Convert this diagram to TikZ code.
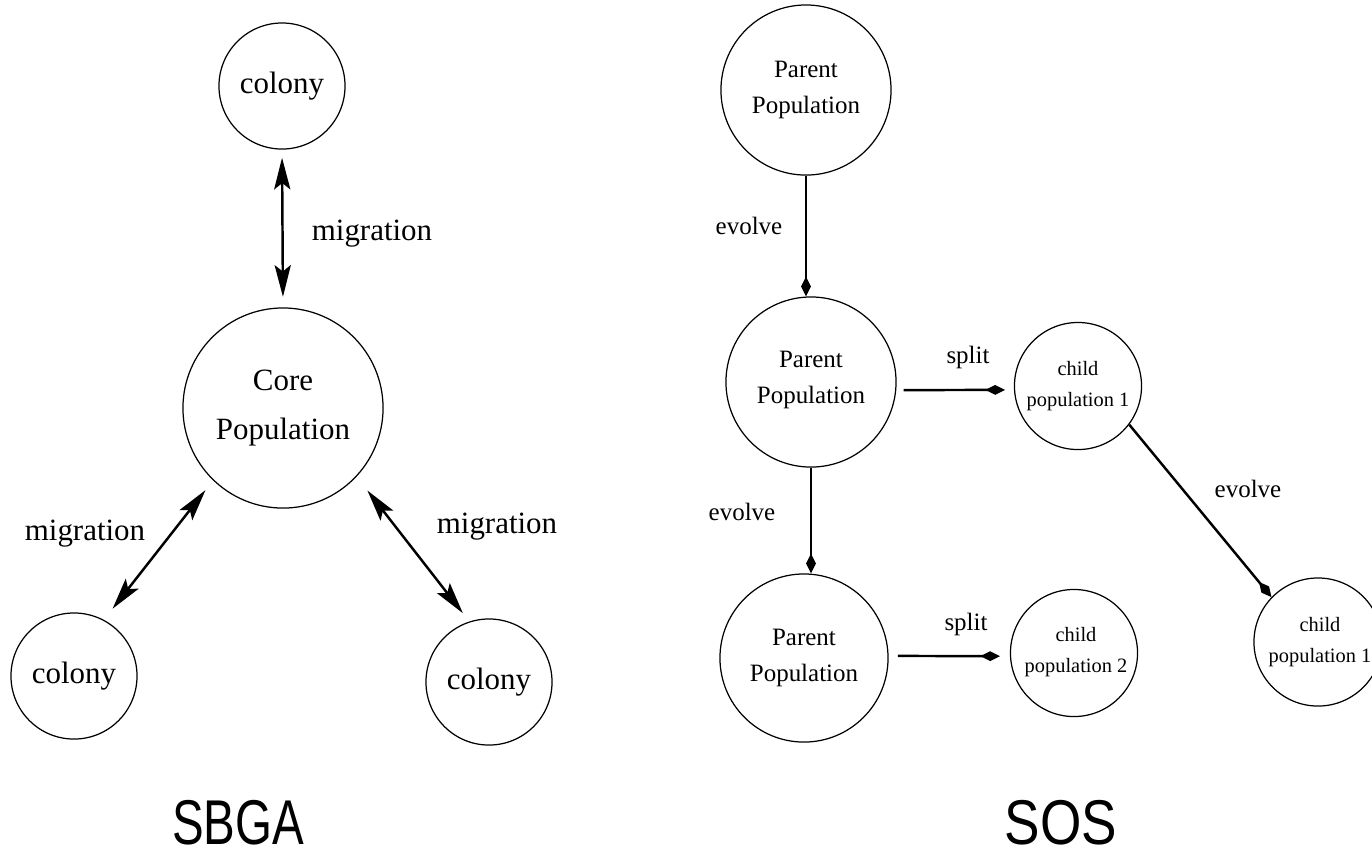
\documentclass[tikz,border=0pt]{standalone}
\usepackage{fontspec}
\setmainfont{Liberation Serif}
\newfontfamily\headfont{Liberation Sans}
\usetikzlibrary{arrows.meta}

\tikzset{
  pop/.style={circle, draw, line width=0.35pt, inner sep=0pt, minimum size=#1},
  bigtxt/.style={align=center, inner sep=0pt, font=\fontsize{8.8}{14.2}\selectfont},
  midtxt/.style={align=center, inner sep=0pt, font=\fontsize{7.1}{10.4}\selectfont},
  smalltxt/.style={align=center, inner sep=0pt, font=\fontsize{5.8}{8.8}\selectfont},
  headtxt/.style={inner sep=0pt, xscale=#1, transform shape, font=\headfont\fontsize{18}{20}\selectfont},
  twoway/.style={line width=0.7pt, {Stealth[length=9pt, width=4.6pt, inset=1.8pt]}-{Stealth[length=9pt, width=4.6pt, inset=1.8pt]}},
  oneway/.style={line width=0.7pt, -{Diamond[length=5.6pt, width=2.8pt]}},
}

\begin{document}
\begin{tikzpicture}[x=0.01cm, y=-0.01cm]
  \useasboundingbox (0,0) rectangle (1372,856);

  % ---------------- SBGA: core population with three colonies
  \node[pop=1.26cm] (ctop) at (282,86) {};
  \node[bigtxt] at (282,86) {colony};
  \node[pop=2cm] (core) at (283,408) {};
  \node[bigtxt] at (283,408) {Core\\Population};
  \node[pop=1.26cm] (cbl) at (74,676) {};
  \node[bigtxt] at (74,676) {colony};
  \node[pop=1.26cm] (cbr) at (489,682) {};
  \node[bigtxt] at (489,682) {colony};

  \draw[twoway, shorten <=2.3pt, shorten >=3pt] (ctop.270) -- (core.90);
  \draw[twoway, shorten <=3.5pt, shorten >=4pt] (core.226) -- (cbl.62);
  \draw[twoway, shorten <=5pt, shorten >=3pt] (core.317) -- (cbr.108);

  \node[bigtxt] (m1) at (372,234) {migration};
  \node[bigtxt] (m2) at (85,534) {migration};
  \node[bigtxt] (m3) at (497,527) {migration};

  \node[headtxt=0.75] (sbga) at (238,823) {SBGA};

  % ---------------- SOS: splitting populations
  \node[pop=1.70cm] (p1) at (806,90) {};
  \node[midtxt] at (806,90) {Parent\\Population};
  \node[pop=1.70cm] (p2) at (811,382) {};
  \node[midtxt] at (811,380) {Parent\\Population};
  \node[pop=1.68cm] (p3) at (804,658) {};
  \node[midtxt] at (804,658) {Parent\\Population};

  \node[pop=1.27cm] (k1) at (1078,386) {};
  \node[smalltxt] at (1078,386) {child\\population 1};
  \node[pop=1.27cm] (k2) at (1074,653) {};
  \node[smalltxt] at (1076,652) {child\\population 2};
  \node[pop=1.28cm] (k3) at (1318,642) {};
  \node[smalltxt] at (1320,642) {child\\population 1};

  \draw[oneway] (p1.south) -- (p1.south |- p2.north);
  \draw[oneway] (p2.south) -- (p2.south |- p3.north);
  \draw[oneway, shorten <=2pt, shorten >=2.5pt] ([yshift=-2.3pt]p2.east) -- ([yshift=-1.1pt]k1.west);
  \draw[oneway, shorten <=2.6pt, shorten >=2.8pt] ([yshift=0.6pt]p3.east) -- ([yshift=-0.9pt]k2.west);
  \draw[oneway] (k1.-37) -- (k3.136);

  \node[midtxt] (e1) at (749,226) {evolve};
  \node[midtxt] (e2) at (742,512) {evolve};
  \node[midtxt] (e3) at (1248,489) {evolve};
  \node[midtxt] (s1) at (968,357) {split};
  \node[midtxt] (s2) at (966,624) {split};

  \node[headtxt=0.84] (sos) at (1061,823) {SOS};
\end{tikzpicture}
\end{document}
